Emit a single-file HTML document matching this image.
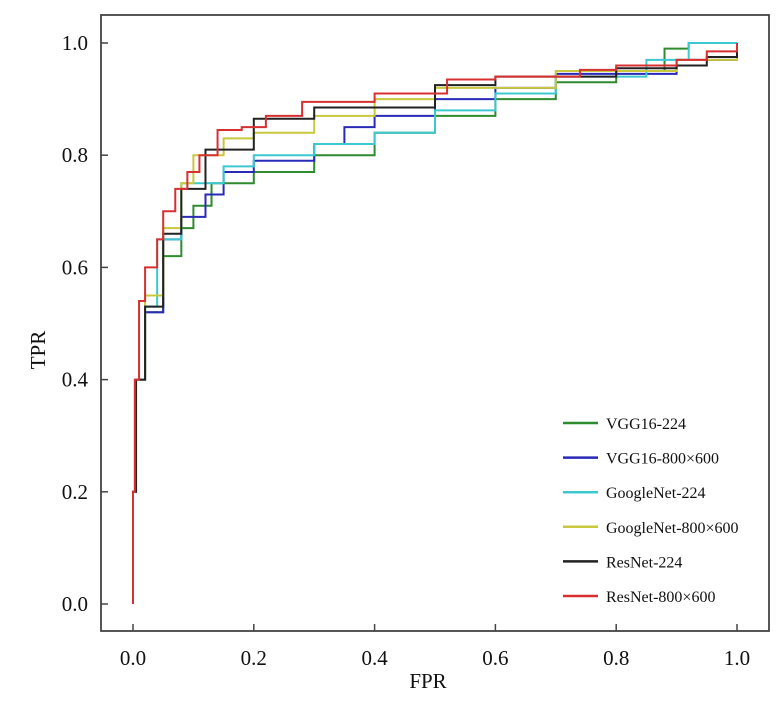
<!DOCTYPE html>
<html><head><meta charset="utf-8"><style>
body{margin:0;background:#fff}
svg text{font-family:"Liberation Serif",serif;fill:#111}
</style></head><body>
<svg width="782" height="706">
<rect x="101" y="15" width="668" height="616" fill="none" stroke="#444" stroke-width="1.8"/>
<g id="axes"></g><g id="series"></g><g id="legend"></g>
<text x="428" y="688" font-size="21" text-anchor="middle">FPR</text>
<text x="45" y="350" font-size="21" text-anchor="middle" transform="rotate(-90 45 350)">TPR</text>
</svg>
<script>
const ticks=[0,0.2,0.4,0.6,0.8,1.0];
const tickLabels=["0.0","0.2","0.4","0.6","0.8","1.0"];
const names=["VGG16-224","VGG16-800×600","GoogleNet-224","GoogleNet-800×600","ResNet-224","ResNet-800×600"];
const colors=["#2e8b2e","#2a2ab8","#3cc8d0","#c8c83c","#222222","#d83030"];
const fprGreen=[0,0,0.005,0.02,0.05,0.08,0.1,0.13,0.2,0.3,0.4,0.5,0.6,0.7,0.8,0.88,0.92,1];
const tprGreen=[0,0.2,0.4,0.52,0.62,0.67,0.71,0.75,0.77,0.8,0.84,0.87,0.9,0.93,0.95,0.99,1.0,1];
const fprBlue=[0,0,0.005,0.02,0.05,0.08,0.12,0.15,0.2,0.3,0.35,0.4,0.5,0.6,0.7,0.9,1];
const tprBlue=[0,0.2,0.4,0.52,0.65,0.69,0.73,0.77,0.79,0.82,0.85,0.87,0.9,0.92,0.945,0.97,1];
const fprCyan=[0,0,0.005,0.02,0.04,0.08,0.15,0.2,0.3,0.4,0.5,0.6,0.7,0.85,0.92,1];
const tprCyan=[0,0.2,0.4,0.53,0.65,0.75,0.78,0.8,0.82,0.84,0.88,0.91,0.94,0.97,1.0,1];
const fprYellow=[0,0,0.005,0.02,0.05,0.08,0.1,0.15,0.2,0.3,0.4,0.5,0.7,0.9,1];
const tprYellow=[0,0.2,0.4,0.55,0.67,0.75,0.8,0.83,0.84,0.87,0.9,0.92,0.95,0.97,1];
const fprBlack=[0,0,0.005,0.02,0.05,0.08,0.12,0.2,0.3,0.5,0.6,0.8,0.9,0.95,1];
const tprBlack=[0,0.2,0.4,0.53,0.66,0.74,0.81,0.865,0.885,0.925,0.94,0.955,0.96,0.975,1];
const fprRed=[0,0,0.003,0.01,0.02,0.04,0.05,0.07,0.09,0.11,0.14,0.18,0.22,0.28,0.4,0.52,0.6,0.74,0.8,0.9,0.95,1];
const tprRed=[0,0.2,0.4,0.54,0.6,0.65,0.7,0.74,0.77,0.8,0.845,0.85,0.87,0.895,0.91,0.935,0.94,0.952,0.96,0.97,0.985,1];
const fprs=[fprGreen,fprBlue,fprCyan,fprYellow,fprBlack,fprRed];
const tprs=[tprGreen,tprBlue,tprCyan,tprYellow,tprBlack,tprRed];
const sx=v=>133+v*604, sy=v=>604-v*561;
const NS="http://www.w3.org/2000/svg";
const ax=document.getElementById('axes');
ticks.forEach((t,i)=>{
  let l=document.createElementNS(NS,'line');
  l.setAttribute('x1',sx(t));l.setAttribute('x2',sx(t));l.setAttribute('y1',631);l.setAttribute('y2',624);l.setAttribute('stroke','#444');l.setAttribute('stroke-width','1.5');
  
  
  ax.appendChild(l);
  let tx=document.createElementNS(NS,'text');
  tx.setAttribute('x',sx(t));tx.setAttribute('y',665);tx.setAttribute('font-size','21');tx.setAttribute('text-anchor','middle');tx.textContent=tickLabels[i];
  
  
  ax.appendChild(tx);
  let l2=document.createElementNS(NS,'line');
  l2.setAttribute('x1',101);l2.setAttribute('x2',108);l2.setAttribute('y1',sy(t));l2.setAttribute('y2',sy(t));l2.setAttribute('stroke','#444');l2.setAttribute('stroke-width','1.5');
  
  
  ax.appendChild(l2);
  let ty=document.createElementNS(NS,'text');
  ty.setAttribute('x',88);ty.setAttribute('y',sy(t)+7);ty.setAttribute('font-size','21');ty.setAttribute('text-anchor','end');ty.textContent=tickLabels[i];
  
  
  ax.appendChild(ty);
});
const sg=document.getElementById('series'), lg=document.getElementById('legend');
names.forEach((n,i)=>{
  let p=document.createElementNS(NS,'polyline');
  let pts=[];
  for(let k=0;k<fprs[i].length;k++){
    if(k>0) pts.push(sx(fprs[i][k])+','+sy(tprs[i][k-1]));
    pts.push(sx(fprs[i][k])+','+sy(tprs[i][k]));
  }
  p.setAttribute('points',pts.join(' '));p.setAttribute('fill','none');p.setAttribute('stroke',colors[i]);p.setAttribute('stroke-width','2');
  
  
  sg.appendChild(p);
  const y=423+i*34.6;
  let l=document.createElementNS(NS,'line');
  l.setAttribute('x1',563);l.setAttribute('x2',598);l.setAttribute('y1',y);l.setAttribute('y2',y);l.setAttribute('stroke',colors[i]);l.setAttribute('stroke-width','2.5');
  
  
  lg.appendChild(l);
  let t=document.createElementNS(NS,'text');
  t.setAttribute('x',606);t.setAttribute('y',y+6);t.setAttribute('font-size','16');t.textContent=n;
  
  
  lg.appendChild(t);
});
</script>
</body></html>
